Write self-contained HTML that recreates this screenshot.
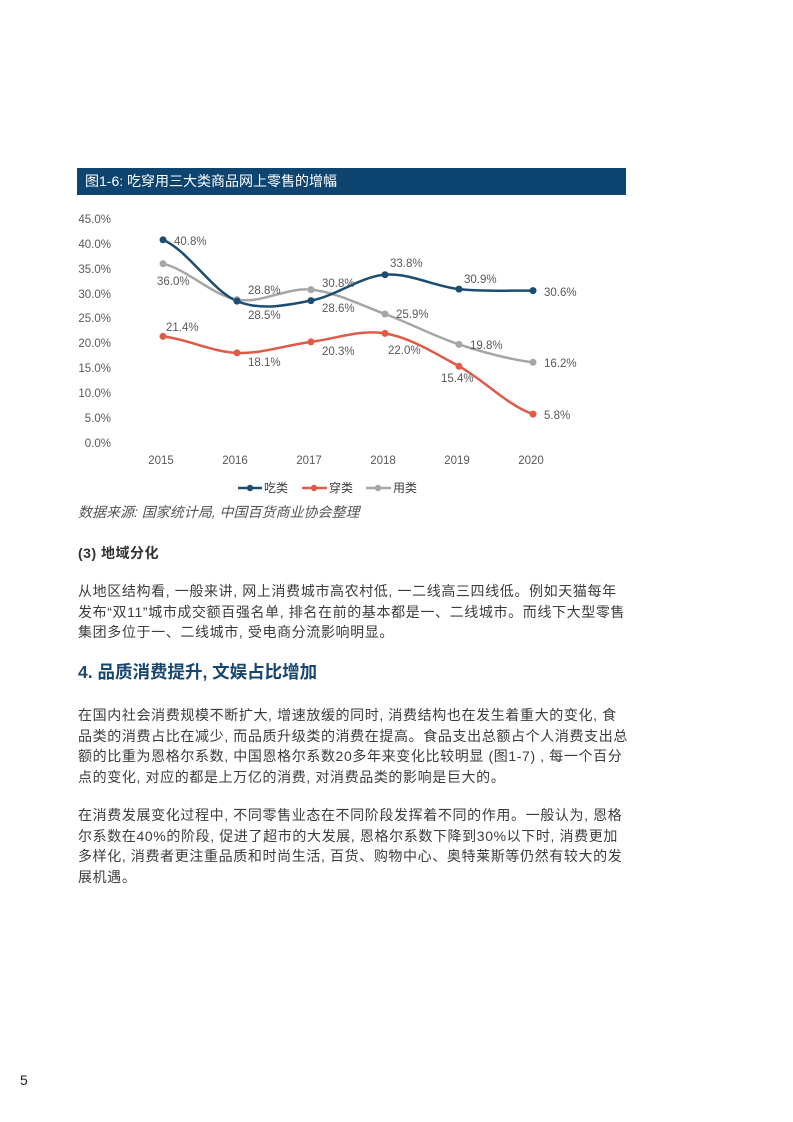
<!DOCTYPE html>
<html><head><meta charset="utf-8"><style>
body{margin:0;background:#fff;}
.page{position:relative;width:793px;height:1122px;overflow:hidden;font-family:"Liberation Sans","Noto Sans CJK SC",sans-serif;color:#3a3a3a;}
.bar{position:absolute;left:77px;top:168px;width:549px;height:27px;background:#0e4470;color:#fff;font-size:14px;line-height:27px;padding-left:8px;box-sizing:border-box;}
.t{position:absolute;left:78px;width:640px;font-size:14px;line-height:20.7px;color:#3c3c3c;white-space:nowrap;}
.p{letter-spacing:0.62px;}
</style></head><body><div class="page">
<div class="bar">图1-6: 吃穿用三大类商品网上零售的增幅</div>
<svg style="position:absolute;left:0;top:0" width="793" height="530" font-family="Liberation Sans, Noto Sans CJK SC, sans-serif">
<g font-size="11.5" fill="#595959" text-anchor="end">
<text x="111" y="223">45.0%</text><text x="111" y="248">40.0%</text><text x="111" y="273">35.0%</text><text x="111" y="298">30.0%</text><text x="111" y="322">25.0%</text><text x="111" y="347">20.0%</text><text x="111" y="372">15.0%</text><text x="111" y="397">10.0%</text><text x="111" y="422">5.0%</text><text x="111" y="447">0.0%</text>
</g>
<g font-size="11.5" fill="#595959" text-anchor="middle">
<text x="161" y="464">2015</text><text x="235" y="464">2016</text><text x="309" y="464">2017</text><text x="383" y="464">2018</text><text x="457" y="464">2019</text><text x="531" y="464">2020</text>
</g>
<g fill="none" stroke-width="2.5">
<path stroke="#a6a6a6" d="M163,263.7 C187.7,269.7 212.3,295.3 237,299.6 C261.7,303.9 286.3,287.2 311,289.6 C335.7,292 360.3,304.9 385,314 C409.7,323.1 434.3,336.35 459,344.4 C483.7,352.45 508.3,359.3 533,362.3"/>
<path stroke="#e05a47" d="M163,336.4 C187.7,339.2 212.3,352 237,352.9 C261.7,353.8 286.3,345.15 311,341.9 C335.7,338.65 360.3,329.3 385,333.4 C409.7,337.5 434.3,352.85 459,366.3 C483.7,379.75 508.3,406.1 533,414.1"/>
<path stroke="#1b4d73" d="M163,239.8 C187.7,250 212.3,291 237,301.1 C261.7,311.2 286.3,305 311,300.6 C335.7,296.2 360.3,276.6 385,274.7 C409.7,272.8 434.3,286.4 459,289.1 C483.7,291.7 508.3,290.4 533,290.6"/>
</g>
<g fill="#a6a6a6"><circle cx="163" cy="263.7" r="3.5"/><circle cx="237" cy="299.6" r="3.5"/><circle cx="311" cy="289.6" r="3.5"/><circle cx="385" cy="314" r="3.5"/><circle cx="459" cy="344.4" r="3.5"/><circle cx="533" cy="362.3" r="3.5"/></g>
<g fill="#e05a47"><circle cx="163" cy="336.4" r="3.5"/><circle cx="237" cy="352.9" r="3.5"/><circle cx="311" cy="341.9" r="3.5"/><circle cx="385" cy="333.4" r="3.5"/><circle cx="459" cy="366.3" r="3.5"/><circle cx="533" cy="414.1" r="3.5"/></g>
<g fill="#1b4d73"><circle cx="163" cy="239.8" r="3.5"/><circle cx="237" cy="301.1" r="3.5"/><circle cx="311" cy="300.6" r="3.5"/><circle cx="385" cy="274.7" r="3.5"/><circle cx="459" cy="289.1" r="3.5"/><circle cx="533" cy="290.6" r="3.5"/></g>
<g font-size="11.5" fill="#595959">
<text x="174" y="245">40.8%</text><text x="157" y="285">36.0%</text><text x="248" y="294">28.8%</text><text x="248" y="319">28.5%</text>
<text x="322" y="287">30.8%</text><text x="322" y="312">28.6%</text><text x="390" y="267">33.8%</text><text x="396" y="318">25.9%</text>
<text x="464" y="283">30.9%</text><text x="544" y="296">30.6%</text><text x="470" y="349">19.8%</text><text x="544" y="367">16.2%</text>
<text x="166" y="331">21.4%</text><text x="248" y="366">18.1%</text><text x="322" y="355">20.3%</text><text x="388" y="354">22.0%</text>
<text x="441" y="382">15.4%</text><text x="544" y="419">5.8%</text>
</g>
<g font-size="12" fill="#404040">
<line x1="238" y1="488" x2="262" y2="488" stroke="#1b4d73" stroke-width="2.5"/><circle cx="250" cy="488" r="3.2" fill="#1b4d73"/><text x="264" y="492">吃类</text>
<line x1="302" y1="488" x2="327" y2="488" stroke="#e05a47" stroke-width="2.5"/><circle cx="314" cy="488" r="3.2" fill="#e05a47"/><text x="329" y="492">穿类</text>
<line x1="366" y1="488" x2="391" y2="488" stroke="#a6a6a6" stroke-width="2.5"/><circle cx="378" cy="488" r="3.2" fill="#a6a6a6"/><text x="393" y="492">用类</text>
</g>
<text x="78" y="517" font-size="14" font-style="italic" fill="#555">数据来源: 国家统计局, 中国百货商业协会整理</text>
</svg>
<div class="t" style="top:543px;font-weight:bold;color:#333;letter-spacing:0.5px">(3) 地域分化</div>
<div class="t p" style="top:581px">从地区结构看, 一般来讲, 网上消费城市高农村低, 一二线高三四线低。例如天猫每年<br>发布“双11”城市成交额百强名单, 排名在前的基本都是一、二线城市。而线下大型零售<br>集团多位于一、二线城市, 受电商分流影响明显。</div>
<div class="t" style="top:660px;font-size:17.5px;font-weight:bold;color:#17466f;line-height:24px">4. 品质消费提升, 文娱占比增加</div>
<div class="t p" style="top:705px">在国内社会消费规模不断扩大, 增速放缓的同时, 消费结构也在发生着重大的变化, 食<br>品类的消费占比在减少, 而品质升级类的消费在提高。食品支出总额占个人消费支出总<br>额的比重为恩格尔系数, 中国恩格尔系数20多年来变化比较明显 (图1-7) , 每一个百分<br>点的变化, 对应的都是上万亿的消费, 对消费品类的影响是巨大的。</div>
<div class="t p" style="top:805px">在消费发展变化过程中, 不同零售业态在不同阶段发挥着不同的作用。一般认为, 恩格<br>尔系数在40%的阶段, 促进了超市的大发展, 恩格尔系数下降到30%以下时, 消费更加<br>多样化, 消费者更注重品质和时尚生活, 百货、购物中心、奥特莱斯等仍然有较大的发<br>展机遇。</div>
<div style="position:absolute;left:20px;top:1072px;font-size:14px;color:#222">5</div>
</div></body></html>
